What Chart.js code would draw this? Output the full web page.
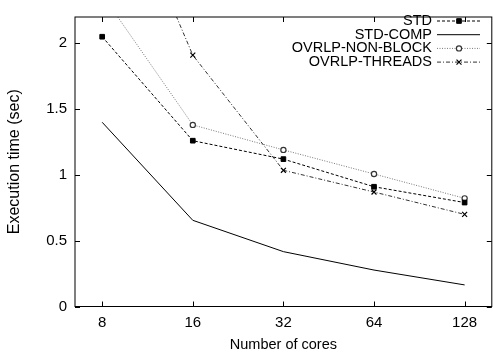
<!DOCTYPE html>
<html>
<head>
<meta charset="utf-8">
<script src="https://cdn.jsdelivr.net/npm/chart.js@4"></script>
<style>
  html, body { margin: 0; padding: 0; background: #fff; overflow: hidden; }
  canvas { display: block; }
</style>
</head>
<body>
<canvas id="timeChart" width="497" height="356"></canvas>
<script>
// execution time vs number of cores
const cores = [8, 16, 32, 64, 128];
const yTicks = [0, 0.5, 1, 1.5, 2];

const stdTimes      = [2.05, 1.26, 1.12, 0.91, 0.79];
const stdCompTimes  = [1.40, 0.655, 0.417, 0.277, 0.164];
const nonBlockTimes = [2.37, 1.38, 1.19, 1.007, 0.822];
const threadsTimes  = [3.53, 1.91, 1.035, 0.87, 0.70];

const FONT = "'Liberation Sans', Arial, Helvetica, sans-serif";

function points(values) {
  return values.map((v, i) => ({ x: cores[i], y: v }));
}

// gnuplot-like frame: box plus inward ticks on all four sides
const framePlugin = {
  id: 'frame',
  afterDraw(chart) {
    const { ctx, chartArea: a, scales: { x, y } } = chart;
    ctx.save();
    ctx.strokeStyle = '#000';
    ctx.lineWidth = 1;
    ctx.strokeRect(a.left, a.top, a.right - a.left, a.bottom - a.top);
    ctx.beginPath();
    yTicks.forEach(v => {
      const py = Math.round(y.getPixelForValue(v)) + 0.5;
      ctx.moveTo(a.left, py); ctx.lineTo(a.left + 5, py);
      ctx.moveTo(a.right, py); ctx.lineTo(a.right - 5, py);
    });
    cores.forEach(v => {
      const px = Math.round(x.getPixelForValue(v)) + 0.5;
      ctx.moveTo(px, a.bottom); ctx.lineTo(px, a.bottom - 5);
      ctx.moveTo(px, a.top); ctx.lineTo(px, a.top + 5);
    });
    ctx.stroke();
    ctx.restore();
  }
};

// key in the top right corner: label, then line sample with its marker
const keyPlugin = {
  id: 'key',
  afterDraw(chart) {
    const { ctx } = chart;
    ctx.save();
    ctx.font = '14.5px ' + FONT;
    ctx.textAlign = 'right';
    ctx.textBaseline = 'middle';
    chart.data.datasets.forEach((ds, i) => {
      const ty = 21 + i * 13.7;
      ctx.fillStyle = '#000';
      ctx.fillText(ds.label, 432, ty);
      ctx.beginPath();
      ctx.strokeStyle = ds.borderColor;
      ctx.lineWidth = ds.borderWidth;
      ctx.setLineDash(ds.borderDash || []);
      ctx.moveTo(437, ty);
      ctx.lineTo(480, ty);
      ctx.stroke();
      ctx.setLineDash([]);
      if (ds.pointRadius > 0) {
        ctx.fillStyle = ds.pointBackgroundColor;
        ctx.strokeStyle = ds.pointBorderColor;
        ctx.lineWidth = ds.pointBorderWidth;
        Chart.helpers.drawPoint(ctx, { pointStyle: ds.pointStyle, radius: ds.pointRadius, borderWidth: ds.pointBorderWidth }, 459, ty);
      }
    });
    ctx.restore();
  }
};

new Chart(document.getElementById('timeChart'), {
  type: 'line',
  data: {
    datasets: [
      {
        label: 'STD',
        data: points(stdTimes),
        borderColor: '#000',
        borderWidth: 1,
        borderDash: [3, 2],
        pointStyle: 'rect',
        pointRadius: 3.3,
        pointBackgroundColor: '#000',
        pointBorderColor: '#000',
        pointBorderWidth: 1
      },
      {
        label: 'STD-COMP',
        data: points(stdCompTimes),
        borderColor: '#000',
        borderWidth: 1,
        pointRadius: 0
      },
      {
        label: 'OVRLP-NON-BLOCK',
        data: points(nonBlockTimes),
        borderColor: '#777',
        borderWidth: 1,
        borderDash: [1, 1.5],
        pointStyle: 'circle',
        pointRadius: 2.6,
        pointBackgroundColor: '#fff',
        pointBorderColor: '#333',
        pointBorderWidth: 1.2
      },
      {
        label: 'OVRLP-THREADS',
        data: points(threadsTimes),
        borderColor: '#333',
        borderWidth: 1,
        borderDash: [4, 2, 1, 2],
        pointStyle: 'crossRot',
        pointRadius: 3.5,
        pointBackgroundColor: '#000',
        pointBorderColor: '#000',
        pointBorderWidth: 1.2
      }
    ]
  },
  options: {
    responsive: false,
    animation: false,
    layout: { padding: { top: 7, right: 2.4, left: 0, bottom: 0 } },
    plugins: {
      legend: { display: false },
      tooltip: { enabled: false }
    },
    elements: { line: { tension: 0, fill: false } },
    scales: {
      x: {
        type: 'logarithmic',
        min: 8 / Math.pow(2, 0.3),
        max: 128 * Math.pow(2, 0.3),
        afterBuildTicks: s => { s.ticks = cores.map(v => ({ value: v })); },
        afterFit: s => { s.height = 49.5; },
        grid: { display: false, drawTicks: false },
        border: { display: false },
        ticks: {
          color: '#000',
          font: { family: FONT, size: 15 },
          padding: 7,
          maxRotation: 0,
          autoSkip: false,
          callback: v => String(v)
        },
        title: {
          display: true,
          text: 'Number of cores',
          color: '#000',
          font: { family: FONT, size: 14.5 },
          padding: { top: 0, bottom: 2 }
        }
      },
      y: {
        min: 0,
        max: 2.2,
        afterBuildTicks: s => { s.ticks = yTicks.map(v => ({ value: v })); },
        afterFit: s => { s.width = 75; },
        grid: { display: false, drawTicks: false },
        border: { display: false },
        ticks: {
          color: '#000',
          font: { family: FONT, size: 15 },
          padding: 8,
          callback: v => String(v)
        },
        title: {
          display: true,
          text: 'Execution time (sec)',
          color: '#000',
          font: { family: FONT, size: 16 },
          padding: { top: 5, bottom: 0 }
        }
      }
    }
  },
  plugins: [framePlugin, keyPlugin]
});
</script>
</body>
</html>
